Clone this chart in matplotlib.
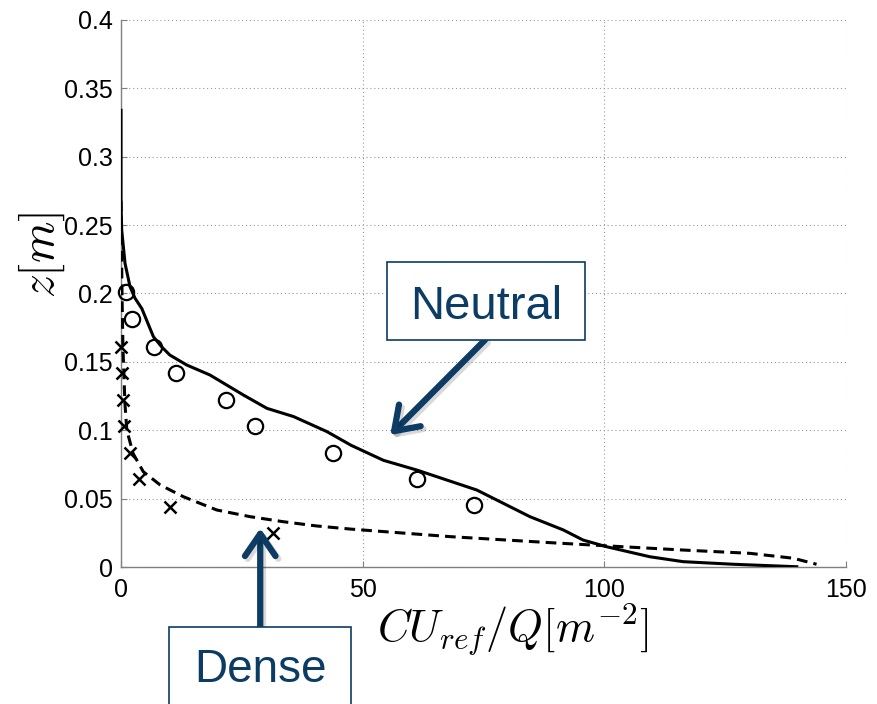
import matplotlib
matplotlib.use("Agg")
import matplotlib.pyplot as plt
import matplotlib.patheffects as pe
from matplotlib.patches import Rectangle

plt.rcParams['font.family'] = ['Liberation Sans', 'DejaVu Sans']
plt.rcParams['mathtext.fontset'] = 'cm'

# simulation, neutral case (solid)
neutral_sim_x = [0, 0, 0.14, 0.83, 1.86, 2.9, 4.3, 5.0, 6.7, 8.4, 10.1, 13.6, 18.4, 25.3,
                 30.2, 35.7, 42.6, 47.6, 54.3, 61.2, 67.4, 73.6, 78.4, 84.6, 91.5, 95.6,
                 100.5, 109.4, 116.3, 126.7, 139.8]
neutral_sim_z = [0.334, 0.265, 0.2464, 0.222, 0.205, 0.1965, 0.189, 0.183, 0.1684, 0.161,
                 0.155, 0.1477, 0.1404, 0.1258, 0.116, 0.110, 0.099, 0.089, 0.078, 0.0709,
                 0.0636, 0.0563, 0.0478, 0.0368, 0.0271, 0.0197, 0.0148, 0.0075, 0.0039,
                 0.002, 0.0002]

# simulation, dense case (dashed)
dense_sim_x = [0, 0.2, 0.4, 0.8, 1.2, 2.5, 4.6, 8.1, 12.9, 19.8, 26.7, 33.6, 40.5, 47.6,
               68.1, 88.8, 99.8, 116.3, 130.1, 139.1, 143.9]
dense_sim_z = [0.268, 0.2, 0.16, 0.12, 0.1, 0.083, 0.0697, 0.06, 0.0514, 0.0417, 0.0368,
               0.0331, 0.030, 0.0277, 0.0222, 0.0178, 0.0156, 0.0124, 0.010, 0.0064, 0.002]

# measurements
neutral_exp_x = [1.0, 2.3, 6.9, 11.3, 21.7, 27.7, 43.9, 61.2, 73.0]
neutral_exp_z = [0.201, 0.181, 0.161, 0.142, 0.122, 0.103, 0.083, 0.064, 0.045]
dense_exp_x = [0, 0.1, 0.5, 0.6, 1.9, 3.8, 10.1, 31.5]
dense_exp_z = [0.161, 0.142, 0.122, 0.103, 0.083, 0.064, 0.044, 0.025]

xticks = [0, 50, 100, 150]
yticks = [0, 0.05, 0.1, 0.15, 0.2, 0.25, 0.3, 0.35, 0.4]
ytick_labels = ['0', '0.05', '0.1', '0.15', '0.2', '0.25', '0.3', '0.35', '0.4']

navy = '#0c3c64'

fig = plt.figure(figsize=(8.77, 7.04), dpi=100)
ax = fig.add_axes([0.138, 0.1946, 0.8267, 0.777])

ax.plot(neutral_sim_x, neutral_sim_z, color='k', lw=2.2, zorder=3)
ax.plot(dense_sim_x, dense_sim_z, color='k', lw=2.2, ls=(0, (3.5, 2)), zorder=3)
ax.plot(neutral_exp_x, neutral_exp_z, 'o', mfc='none', mec='k', ms=11, mew=1.6,
        clip_on=False, zorder=4)
ax.plot(dense_exp_x, dense_exp_z, 'x', color='k', ms=8, mew=1.8, clip_on=False, zorder=4)

ax.set_xlim(0, 150)
ax.set_ylim(0, 0.4)
ax.set_xticks(xticks)
ax.set_yticks(yticks)
ax.set_yticklabels(ytick_labels)
ax.grid(True, color='#9a9a9a', ls=(0, (1, 2.5)), lw=0.8)
ax.tick_params(direction='in', length=4, color='#808080', labelsize=18)
ax.tick_params(axis='x', pad=8)
ax.tick_params(axis='y', pad=6)
for s in ['top', 'right']:
    ax.spines[s].set_visible(False)
for s in ['left', 'bottom']:
    ax.spines[s].set_color('#808080')
    ax.spines[s].set_linewidth(1.0)

ax.set_xlabel(r'$CU_{ref}/Q[m^{-2}]$', fontsize=32, va='top')
ax.xaxis.set_label_coords(0.541, -0.063)
ax.set_ylabel(r'$z[m]$', fontsize=34, va='center', ha='center')
ax.yaxis.set_label_coords(-0.109, 0.57)

# annotation boxes and arrows
shadow = [pe.SimpleLineShadow(offset=(2, -2), alpha=0.15, shadow_color='k'), pe.Normal()]
arrow_kw = dict(arrowstyle='->,head_length=0.8,head_width=0.55', color=navy, lw=4.5,
                mutation_scale=20, shrinkA=0, shrinkB=0, path_effects=shadow)

ax.add_patch(Rectangle((55.0, 0.166), 41.0, 0.057, fc='white', ec=navy, lw=1.2,
                       clip_on=False, zorder=6))
ax.text(75.5, 0.181, 'Neutral', color=navy, fontsize=34, ha='center', va='baseline',
        zorder=7)
ax.annotate('', xy=(55.7, 0.0965), xytext=(75.3, 0.166), arrowprops=arrow_kw,
            annotation_clip=False, zorder=5)

ax.add_patch(Rectangle((9.9, -0.12), 37.7, 0.076, fc='white', ec=navy, lw=1.2,
                       clip_on=False, zorder=6))
ax.text(28.8, -0.0841, 'Dense', color=navy, fontsize=33, ha='center', va='baseline',
        zorder=7)
ax.annotate('', xy=(28.8, 0.0283), xytext=(28.8, -0.0437), arrowprops=arrow_kw,
            annotation_clip=False, zorder=5)

fig.savefig('out.png', dpi=100)
